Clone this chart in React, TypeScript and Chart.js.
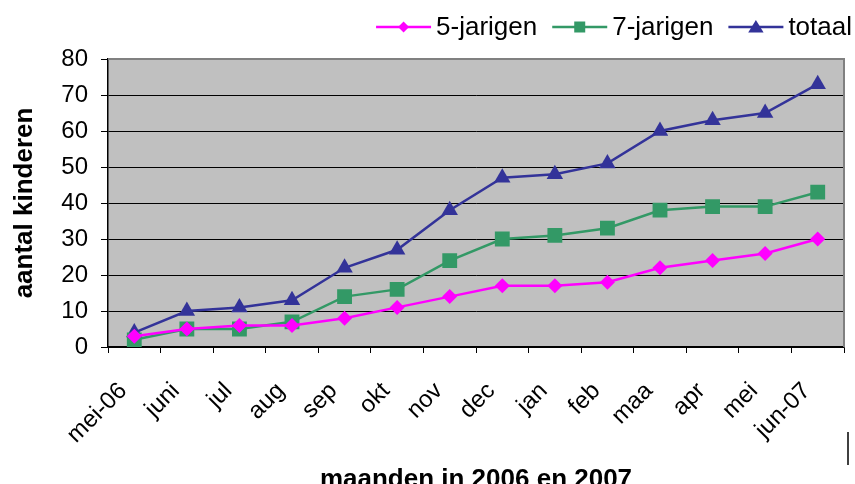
import React, { useEffect, useRef } from "react";
import { Chart, registerables } from "chart.js";

Chart.register(...registerables);

const categories = ["mei-06", "juni", "jul", "aug", "sep", "okt", "nov", "dec", "jan", "feb", "maa", "apr", "mei", "jun-07"];
const vijfJarigen = [3, 5, 6, 6, 8, 11, 14, 17, 17, 18, 22, 24, 26, 30];
const zevenJarigen = [2, 5, 5, 7, 14, 16, 24, 30, 31, 33, 38, 39, 39, 43];
const totaal = [4, 10, 11, 13, 22, 27, 38, 47, 48, 51, 60, 63, 65, 73];
const seriesNames = ["5-jarigen", "7-jarigen", "totaal"];
const yTitle = "aantal kinderen";
const xTitle = "maanden in 2006 en 2007";

const FONT = "Arial, 'Liberation Sans', sans-serif";
const COLORS = ["#FF00FF", "#339966", "#333399"];
const STYLES = ["rectRot", "rect", "triangle"];

function drawMarker(ctx: CanvasRenderingContext2D, style: string, x: number, y: number, r: number) {
  ctx.beginPath();
  if (style === "rectRot") {
    ctx.moveTo(x, y - r);
    ctx.lineTo(x + r, y);
    ctx.lineTo(x, y + r);
    ctx.lineTo(x - r, y);
  } else if (style === "rect") {
    ctx.rect(x - r, y - r, 2 * r, 2 * r);
  } else {
    ctx.moveTo(x, y - r);
    ctx.lineTo(x + r * 1.1, y + r * 0.8);
    ctx.lineTo(x - r * 1.1, y + r * 0.8);
  }
  ctx.closePath();
  ctx.fill();
}

const legendPlugin = {
  id: "customLegend",
  afterDraw(chart: any) {
    const { ctx } = chart;
    ctx.save();
    ctx.font = `26px ${FONT}`;
    ctx.textBaseline = "middle";
    ctx.textAlign = "left";
    const y = 27;
    const lineLen = 55;
    const gapText = 5;
    const gapItem = 15;
    const widths = seriesNames.map((n) => ctx.measureText(n).width);
    let total = 0;
    widths.forEach((w, i) => {
      total += lineLen + gapText + w + (i < widths.length - 1 ? gapItem : 0);
    });
    let x = 852 - total;
    const sizes = [5.5, 5.5, 7];
    seriesNames.forEach((n, i) => {
      ctx.strokeStyle = COLORS[i];
      ctx.fillStyle = COLORS[i];
      ctx.lineWidth = 2.5;
      ctx.beginPath();
      ctx.moveTo(x, y);
      ctx.lineTo(x + lineLen, y);
      ctx.stroke();
      drawMarker(ctx, STYLES[i], x + lineLen / 2, y, sizes[i]);
      ctx.fillStyle = "#000";
      ctx.fillText(n, x + lineLen + gapText, y + 1);
      x += lineLen + gapText + widths[i] + gapItem;
    });
    // small stray vertical mark at the lower right
    ctx.strokeStyle = "#000";
    ctx.lineWidth = 1.5;
    ctx.beginPath();
    ctx.moveTo(848, 432);
    ctx.lineTo(848, 465);
    ctx.stroke();
    ctx.restore();
  },
};

const bgPlugin = {
  id: "plotBg",
  beforeDraw(chart: any) {
    const { ctx, chartArea: a } = chart;
    ctx.save();
    ctx.fillStyle = "#C0C0C0";
    ctx.fillRect(a.left, a.top, a.right - a.left, a.bottom - a.top);
    ctx.restore();
  },
  beforeDatasetsDraw(chart: any) {
    const { ctx, chartArea: a } = chart;
    ctx.save();
    ctx.strokeStyle = "#808080";
    ctx.lineWidth = 2;
    ctx.beginPath();
    ctx.moveTo(a.left, a.top);
    ctx.lineTo(a.right, a.top);
    ctx.lineTo(a.right, a.bottom);
    ctx.stroke();
    ctx.restore();
  },
};

export default function App() {
  const ref = useRef<HTMLCanvasElement>(null);
  useEffect(() => {
    const chart = new Chart(ref.current!, {
      type: "line",
      data: {
        labels: categories,
        datasets: [
          { label: seriesNames[0], data: vijfJarigen, borderColor: COLORS[0], backgroundColor: COLORS[0], pointStyle: "rectRot", pointRadius: 7.5, borderWidth: 2.5, pointBorderWidth: 0 },
          { label: seriesNames[1], data: zevenJarigen, borderColor: COLORS[1], backgroundColor: COLORS[1], pointStyle: "rect", pointRadius: 10.5, borderWidth: 2.5, pointBorderWidth: 0 },
          { label: seriesNames[2], data: totaal, borderColor: COLORS[2], backgroundColor: COLORS[2], pointStyle: "triangle", pointRadius: 9.5, borderWidth: 2.5, pointBorderWidth: 0 },
        ],
      },
      options: {
        animation: false,
        responsive: false,
        maintainAspectRatio: false,
        layout: { padding: { top: 59, right: 11, bottom: 0, left: 0 } },
        plugins: {
          tooltip: { enabled: false },
          legend: { display: false },
        },
        scales: {
          x: {
            offset: true,
            afterFit: (s: any) => { s.height = 137; s.paddingLeft = 0; s.paddingRight = 0; },
            grid: { offset: true, drawOnChartArea: false, drawTicks: true, tickLength: 6, color: "#000", lineWidth: 1 },
            border: { color: "#000", width: 1.5 },
            ticks: { font: { family: FONT, size: 24 }, color: "#000", maxRotation: 45, minRotation: 45, autoSkip: false, padding: 24, labelOffset: -11 },
            title: { display: true, text: xTitle, font: { family: FONT, size: 26, weight: "bold" }, color: "#000", padding: { top: 0, bottom: -11 } },
          },
          y: {
            min: 0,
            max: 80,
            afterFit: (s: any) => { s.width = 108; },
            ticks: { stepSize: 10, font: { family: FONT, size: 24 }, color: "#000", padding: 13 },
            grid: { color: "#000", lineWidth: 1, tickLength: 7, drawTicks: true },
            border: { color: "#000", width: 1.5 },
            title: { display: true, text: yTitle, font: { family: FONT, size: 26, weight: "bold" }, color: "#000", padding: { top: 9, bottom: 0 } },
          },
        },
      },
      plugins: [bgPlugin, legendPlugin],
    });
    return () => chart.destroy();
  }, []);
  return (
    <div style={{ position: "fixed", left: 0, top: 0, width: 855, height: 484, background: "#fff" }}>
      <canvas ref={ref} width={855} height={484} style={{ width: 855, height: 484 }} />
    </div>
  );
}
